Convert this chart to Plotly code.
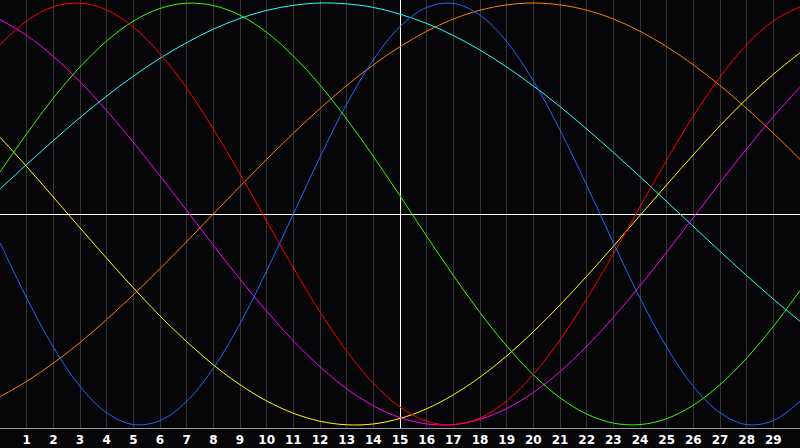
import plotly.graph_objects as go

days = list(range(0, 31))
tick_days = list(range(1, 30))
tick_labels = [str(d) for d in tick_days]
today = 15

physical = [-0.136,-0.398,-0.631,-0.817,-0.942,-0.998,-0.979,-0.888,-0.731,-0.52,-0.27,0,0.27,0.52,0.731,0.888,0.979,0.998,0.942,0.817,0.631,0.398,0.136,-0.136,-0.398,-0.631,-0.817,-0.942,-0.998,-0.979,-0.888]
emotional = [0.802,0.915,0.982,0.999,0.967,0.886,0.76,0.597,0.403,0.19,-0.034,-0.255,-0.464,-0.649,-0.802,-0.915,-0.982,-0.999,-0.967,-0.886,-0.76,-0.597,-0.403,-0.19,0.034,0.255,0.464,0.649,0.802,0.915,0.982]
intellectual = [0.199,0.38,0.549,0.697,0.82,0.914,0.974,0.999,0.988,0.942,0.861,0.749,0.611,0.45,0.273,0.086,-0.105,-0.291,-0.467,-0.626,-0.762,-0.871,-0.948,-0.991,-0.998,-0.97,-0.906,-0.809,-0.683,-0.533,-0.363]
intuitive = [0.922,0.846,0.747,0.627,0.49,0.34,0.181,0.017,-0.148,-0.309,-0.461,-0.601,-0.724,-0.828,-0.909,-0.965,-0.995,-0.998,-0.973,-0.922,-0.846,-0.747,-0.627,-0.49,-0.34,-0.181,-0.017,0.148,0.309,0.461,0.601]
aesthetic = [0.364,0.225,0.08,-0.066,-0.21,-0.35,-0.483,-0.605,-0.715,-0.809,-0.886,-0.944,-0.982,-0.999,-0.995,-0.969,-0.923,-0.857,-0.773,-0.673,-0.558,-0.431,-0.295,-0.153,-0.007,0.138,0.281,0.418,0.546,0.662,0.764]
awareness = [-0.866,-0.793,-0.707,-0.609,-0.5,-0.383,-0.259,-0.131,0,0.131,0.259,0.383,0.5,0.609,0.707,0.793,0.866,0.924,0.966,0.991,1,0.991,0.966,0.924,0.866,0.793,0.707,0.609,0.5,0.383,0.259]
spiritual = [0.118,0.235,0.348,0.457,0.559,0.653,0.738,0.812,0.876,0.927,0.965,0.989,1,0.996,0.979,0.947,0.903,0.846,0.777,0.697,0.607,0.509,0.403,0.292,0.177,0.059,-0.059,-0.177,-0.292,-0.403,-0.509]

series = [
    ("Awareness", awareness, "#ff8000"),
    ("Spiritual", spiritual, "#22ffff"),
    ("Aesthetic", aesthetic, "#ffff00"),
    ("Intuitive", intuitive, "#ff00ff"),
    ("Intellectual", intellectual, "#33ff00"),
    ("Emotional", emotional, "#ff0000"),
    ("Physical", physical, "#1a6aff"),
]

fig = go.Figure()
for name, vals, color in series:
    fig.add_trace(go.Scatter(x=days, y=vals, name=name, mode="lines",
                             line=dict(color=color, width=1, shape="spline"),
                             hoverinfo="skip"))

# invisible helper trace on a shifted x-axis whose zero line marks "today"
fig.add_trace(go.Scatter(x=[today - today], y=[0], xaxis="x2", mode="markers",
                         marker=dict(opacity=0), hoverinfo="skip", showlegend=False))

fig.update_layout(
    width=800, height=448,
    margin=dict(l=0, r=0, t=0, b=20, pad=0, autoexpand=False),
    paper_bgcolor="#060608",
    plot_bgcolor="#060608",
    showlegend=False,
    xaxis=dict(range=[0, 30], tickvals=tick_days, ticktext=tick_labels,
               showgrid=True, gridcolor="#353535", gridwidth=1,
               zeroline=False, showline=True, linecolor="#9a9a9a", linewidth=1, mirror=True,
               ticks="", ticklabelstandoff=1,
               tickfont=dict(family="DejaVu Sans", size=12, color="#ffffff", weight="bold")),
    xaxis2=dict(range=[0 - today, 30 - today], overlaying="x", side="bottom",
                showgrid=False, showticklabels=False, ticks="",
                zeroline=True, zerolinecolor="#ffffff", zerolinewidth=1, showline=False),
    yaxis=dict(range=[-1.0142, 1.0142], showgrid=False,
               zeroline=True, zerolinecolor="#ffffff", zerolinewidth=1,
               showticklabels=False, showline=True, linecolor="#9a9a9a", linewidth=1, mirror=True),
)

fig.write_html("out.html", config={"displayModeBar": False, "staticPlot": True},
               post_script="document.body.style.margin='0';document.body.style.background='#060608';")
